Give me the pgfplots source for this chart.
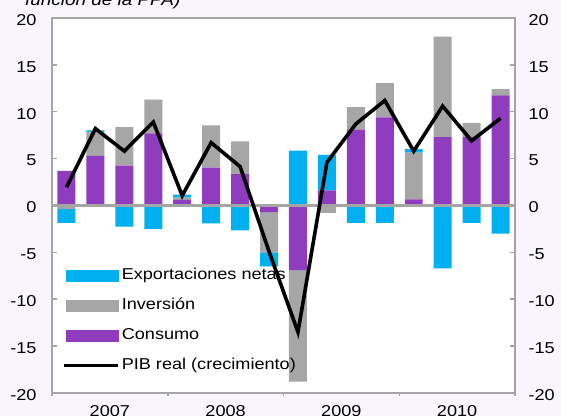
\documentclass[border=0pt]{standalone}
\usepackage{fontspec}
\setmainfont{Liberation Sans}[FakeStretch=1.15]
\usepackage{pgfplots}
\pgfplotsset{compat=1.18}
\definecolor{cblue}{RGB}{0,176,240}
\definecolor{cgrey}{RGB}{166,166,166}
\definecolor{cpurp}{RGB}{143,60,190}
\definecolor{bgl}{RGB}{248,245,253}
\definecolor{axgrey}{RGB}{165,165,165}
\begin{document}
\begin{tikzpicture}
\fill[bgl] (-52bp,-23bp) rectangle (509bp,393bp);
\fill[white] (0,0) rectangle (463bp,375bp);
\node[anchor=base west, inner sep=0pt, font=\fontsize{16.5}{19}\selectfont\itshape] at (-27bp,387.5bp) {función de la PPA)};
\pgfplotsset{
  base/.style={width=463bp, height=375bp, scale only axis,
    xmin=-0.5, xmax=15.5, ymin=-20, ymax=20,
    /pgf/number format/assume math mode=true,
    tick label style={font=\fontsize{15.8}{18}\selectfont},
    ytick={-20,-15,...,20},
    yticklabels={-20,-15,-10,-5,0,5,10,15,20}},
}
% bars (positive and negative parts are stacked separately by pgfplots)
\begin{axis}[base, ybar stacked, bar width=0.62,
  axis line style={draw=none},
  tick align=outside, xtick pos=lower,
  xtick={-0.5,3.5,7.5,11.5,15.5}, xticklabels={},
  major tick length=3bp,
  xtick style={axgrey, line width=1.5bp},
  ytick style={draw=none},
  yticklabel pos=right,
  yticklabel style={xshift=7bp, yshift=-2bp}]
% Consumo
\addplot[fill=cpurp, draw=none] coordinates {(0,3.7)(1,5.3)(2,4.25)(3,7.7)(4,0.6)(5,4.05)(6,3.35)(7,-0.7)(8,-6.9)(9,1.6)(10,8.1)(11,9.4)(12,0.65)(13,7.3)(14,7.3)(15,11.75)};
% Inversion
\addplot[fill=cgrey, draw=none] coordinates {(0,-0.35)(1,2.5)(2,4.1)(3,3.6)(4,0.25)(5,4.5)(6,3.5)(7,-4.3)(8,-11.9)(9,-0.8)(10,2.4)(11,3.65)(12,5.0)(13,10.7)(14,1.5)(15,0.65)};
% Exportaciones netas
\addplot[fill=cblue, draw=none] coordinates {(0,-1.5)(1,0.2)(2,-2.25)(3,-2.5)(4,0.3)(5,-1.9)(6,-2.65)(7,-1.5)(8,5.85)(9,3.8)(10,-1.85)(11,-1.85)(12,0.35)(13,-6.7)(14,-1.85)(15,-3.0)};
\end{axis}
% frame, line, legend
\begin{axis}[base,
  axis line style={axgrey, line width=2.5bp},
  tick align=inside, ytick pos=both, yticklabel pos=left,
  major tick length=5bp,
  ytick style={axgrey, line width=1.5bp},
  xtick={1.5,5.5,9.5,13.5}, xticklabels={2007,2008,2009,2010},
  xtick style={draw=none},
  xticklabel style={yshift=-8.5bp},
  yticklabel style={xshift=-12bp, yshift=-2bp},
  legend cell align=left,
  legend style={draw=none, fill=none, at={(0.0216,0.334)}, anchor=north west,
    font=\fontsize{15.8}{18}\selectfont, inner sep=0pt,
    nodes={inner sep=0pt, text height=11.5bp, text depth=3.5bp},
    row sep=15bp,
    /tikz/every odd column/.append style={column sep=2bp}}]
\draw[axgrey, line width=2.5bp] (axis cs:-0.5,0) -- (axis cs:15.5,0);
\addlegendimage{legend image code/.code={\fill[cblue] (2bp,-5.5bp) rectangle (54bp,5.5bp);}}
\addlegendentry{Exportaciones netas}
\addlegendimage{legend image code/.code={\fill[cgrey] (2bp,-5.5bp) rectangle (54bp,5.5bp);}}
\addlegendentry{Inversión}
\addlegendimage{legend image code/.code={\fill[cpurp] (2bp,-5.5bp) rectangle (54bp,5.5bp);}}
\addlegendentry{Consumo}
\addplot[black, line width=3.6bp, line join=miter,
  legend image code/.code={\draw[black, line width=3.6bp] (0bp,0bp) -- (54bp,0bp);}]
  coordinates {(0,1.95)(1,8.2)(2,5.8)(3,8.9)(4,1.05)(5,6.7)(6,4.15)(7,-4.9)(8,-13.5)(9,4.6)(10,8.7)(11,11.2)(12,5.8)(13,10.6)(14,6.9)(15,9.3)};
\addlegendentry{PIB real (crecimiento)}
\end{axis}
\pgfresetboundingbox
\useasboundingbox (-52bp,-23bp) rectangle (509bp,393bp);
\end{tikzpicture}
\end{document}
